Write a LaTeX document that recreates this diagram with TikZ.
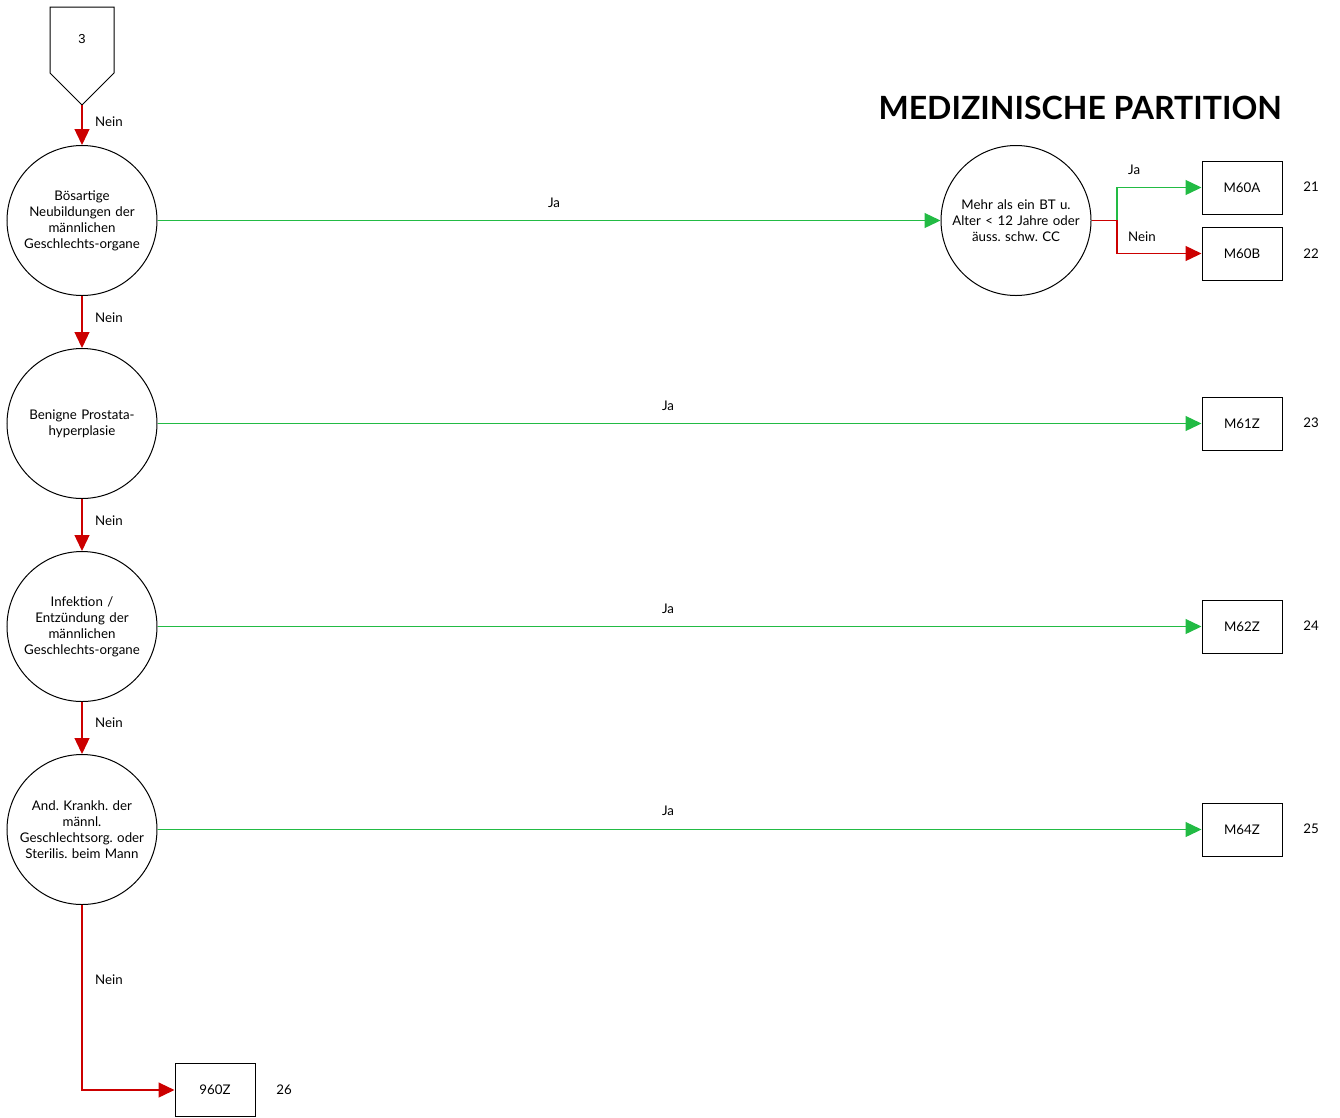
\documentclass[tikz,border=0pt]{standalone}
\usepackage{fontspec}
\setmainfont{Lato}
\newfontfamily\arialfont{Liberation Sans}
\usetikzlibrary{arrows.meta,shapes.geometric}
\definecolor{nored}{RGB}{204,0,0}
\definecolor{jagreen}{RGB}{34,187,68}
\frenchspacing
\begin{document}
\begin{tikzpicture}[x=1pt,y=-1pt,
  every node/.style={font=\fontsize{13.3}{16}\selectfont, inner sep=0pt},
  decision/.style={draw, circle, minimum size=150pt, line width=1pt, align=center, text width=132pt},
  outbox/.style={draw, rectangle, minimum width=80pt, minimum height=53pt, line width=1pt},
  lbl/.style={anchor=west},
  noedge/.style={draw=nored, line width=1.3pt, -{Triangle[length=16pt,width=15pt,fill=nored]}},
  yesedge/.style={draw=jagreen, line width=1.3pt, -{Triangle[length=16pt,width=15pt,fill=jagreen]}}
]
\useasboundingbox (0,0) rectangle (1340,1117);
% off-page connector
\draw[line width=1pt] (50,7) -- (114,7) -- (114,73) -- (82,105) -- (50,73) -- cycle;
\node[font=\arialfont\fontsize{13}{16}\selectfont] (p3) at (82,39) {3};
\coordinate (p3tip) at (82,105);

\node[font=\fontsize{32}{38}\bfseries\selectfont, anchor=east] (title) at (1282,108) {MEDIZINISCHE PARTITION};

\node[decision] (c1) at (82,220.5) {Bösartige\\Neubildungen der\\männlichen\\Geschlechts-organe};
\node[decision] (c2) at (82,423.5) {Benigne Prostata-\\hyperplasie};
\node[decision] (c3) at (82,626.5) {Infektion /\\Entzündung der\\männlichen\\Geschlechts-organe};
\node[decision] (c4) at (82,829.5) {And. Krankh. der\\männl.\\Geschlechtsorg. oder\\Sterilis. beim Mann};
\node[decision] (c5) at (1016,220.5) {Mehr als ein BT u.\\Alter < 12 Jahre oder\\äuss. schw. CC};

\node[outbox] (m60a) at (1242,187.5) {M60A};
\node[outbox] (m60b) at (1242,253.5) {M60B};
\node[outbox] (m61z) at (1242,423.5) {M61Z};
\node[outbox] (m62z) at (1242,626.5) {M62Z};
\node[outbox] (m64z) at (1242,829.5) {M64Z};
\node[outbox] (z960) at (215,1090) {960Z};

\node (n21) at (1311,187) {21};
\node (n22) at (1311,254) {22};
\node (n23) at (1311,423) {23};
\node (n24) at (1311,626) {24};
\node (n25) at (1311,829) {25};
\node (n26) at (284,1090) {26};

% connectors
\draw[noedge] (p3tip) -- (c1.north);
\draw[noedge] (c1.south) -- (c2.north);
\draw[noedge] (c2.south) -- (c3.north);
\draw[noedge] (c3.south) -- (c4.north);
\draw[noedge] (c4.south) |- (z960.west);

\draw[yesedge] (c1.east) -- (c5.west);
\draw[yesedge] (c2.east) -- (m61z.west);
\draw[yesedge] (c3.east) -- (m62z.west);
\draw[yesedge] (c4.east) -- (m64z.west);

\coordinate (j5) at (1117,220.5);
\draw[yesedge] (c5.east) -- (j5) |- (m60a.west);
\draw[noedge] (c5.east) -- (j5) |- (m60b.west);

% labels
\node[lbl] (l1) at (95,122) {Nein};
\node[lbl] (l2) at (95,318) {Nein};
\node[lbl] (l3) at (95,521) {Nein};
\node[lbl] (l4) at (95,723) {Nein};
\node[lbl] (l5) at (95,980) {Nein};
\node (y1) at (554,203) {Ja};
\node (y2) at (668,406) {Ja};
\node (y3) at (668,609) {Ja};
\node (y4) at (668,811) {Ja};
\node[lbl] (y5) at (1128,170) {Ja};
\node[lbl] (n5) at (1128,237) {Nein};
\end{tikzpicture}
\end{document}
